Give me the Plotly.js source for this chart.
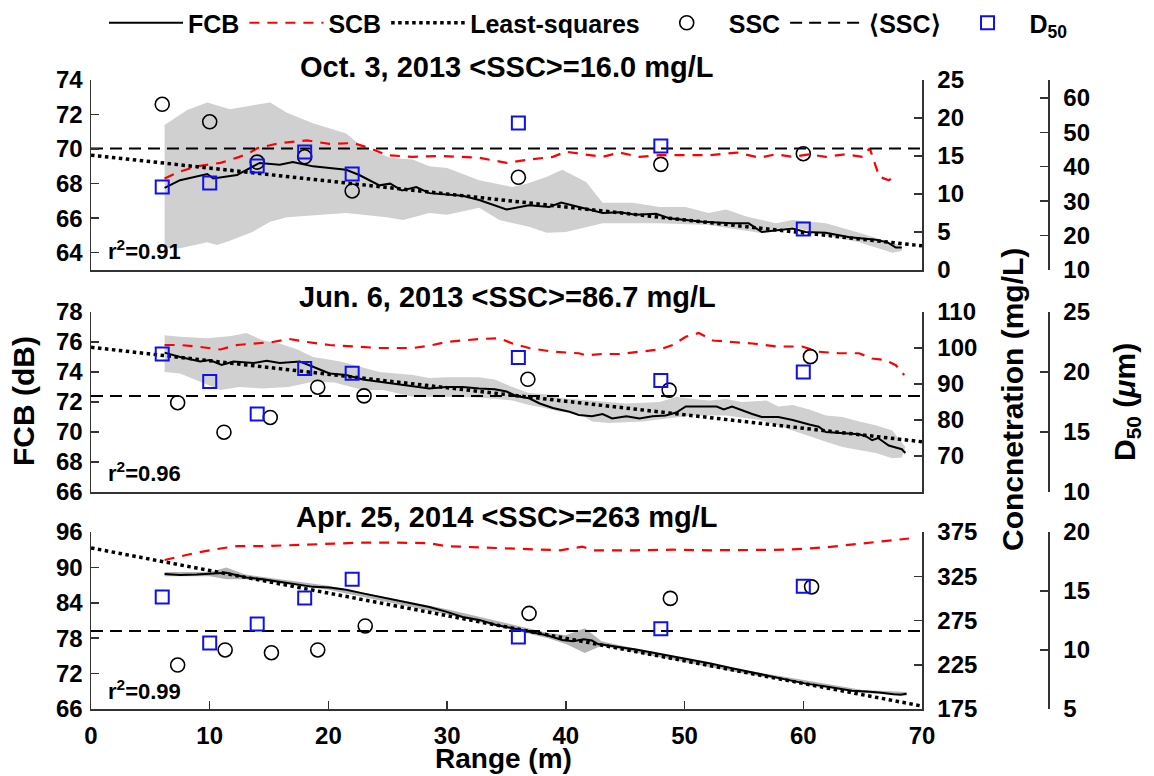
<!DOCTYPE html>
<html>
<head>
<meta charset="utf-8">
<script src="https://cdn.plot.ly/plotly-3.0.1.min.js"></script>
<style>html,body{margin:0;padding:0;background:#fff;}#chart{width:1154px;height:776px;}</style>
</head>
<body>
<div id="chart"></div>
<script>
// ---------------- DATA ----------------
const panelTitles = ["Oct. 3, 2013 <SSC>=16.0 mg/L", "Jun. 6, 2013 <SSC>=86.7 mg/L", "Apr. 25, 2014 <SSC>=263 mg/L"];
const r2Labels = ["r<sup>2</sup>=0.91", "r<sup>2</sup>=0.96", "r<sup>2</sup>=0.99"];
const meanSSC = [16.0, 86.7, 263];

// Panel 1 (Oct. 3, 2013)
const fcb1X = [6.2,7.5,9.8,10.3,12.3,13.4,14.2,15.9,17.0,18.7,20.1,21.5,22.6,24.3,25.2,26.2,27.4,28.5,31.3,32.7,35.0,36.9,38.6,39.6,41.1,43.1,44.5,45.9,47.6,48.7,51.5,54.0,55.4,56.5,59.1,60.2,61.9,63.9,66.1,67.1,67.8,68.3];
const fcb1Y = [67.76,68.2,68.56,68.3,68.5,68.9,69.2,69.1,69.25,69.0,68.9,68.8,68.5,67.9,68.0,67.6,67.8,67.45,67.3,67.05,66.5,66.75,66.65,66.9,66.65,66.3,66.35,66.2,66.25,66.0,65.8,65.7,65.7,65.2,65.4,65.2,65.15,64.9,64.75,64.6,64.3,64.3];
const up1X = [6.2,8.1,9.8,11.7,13.3,15.1,16.5,18.7,21.5,22.9,25.2,27.1,28.5,30.0,32.7,35.5,36.7,38.4,39.7,41.7,43.1,45.6,47.9,50.1,52.0,53.5,55.2,57.7,59.1,61.9,64.7,67.5,68.3];
const up1Y = [71.4,72.26,72.7,72.3,72.5,72.7,72.1,71.5,70.9,70.1,69.5,69.4,69.0,68.9,68.2,67.8,68.0,68.4,68.8,68.1,66.9,66.9,66.65,66.65,66.3,66.5,66.1,65.7,65.9,65.7,65.15,64.55,64.4];
const lo1X = [6.2,7.5,9.8,10.6,11.7,13.6,15.1,16.5,18.7,21.5,24.9,26.3,28.5,30.0,32.7,34.4,36.9,38.4,40.0,41.1,43.1,47.9,52.0,56.3,59.1,61.9,64.7,67.5,68.3];
const lo1Y = [64.3,64.26,64.6,64.45,64.7,65.2,65.8,66.05,66.15,66.3,66.05,65.9,66.3,66.2,66.6,65.9,65.5,65.15,65.2,65.4,65.7,65.7,65.6,65.15,65.5,65.0,64.6,64.0,64.1];
const scb1X = [6.2,7.5,8.9,10.9,12.5,13.4,14.0,15.9,18.2,20.1,22.1,23.5,24.9,27.1,29.5,32.7,35.0,36.4,38.9,40.0,41.5,43.1,44.5,46.2,47.9,50.0,52.1,54.4,56.3,57.7,59.1,60.5,61.9,63.5,65.0,65.6,66.4,67.2,67.9];
const scb1Y = [68.3,68.7,69.0,69.2,69.55,69.8,70.05,70.35,70.5,70.3,70.35,70.05,69.65,69.55,69.6,69.5,69.2,69.35,69.55,69.85,69.7,69.55,69.8,69.55,69.65,69.65,69.65,69.8,69.5,69.7,69.55,69.7,69.55,69.7,69.55,70.05,68.4,68.2,68.5];
const ls1X = [0,70];
const ls1Y = [69.65,64.4];
const ssc1X = [6,10,14,18,22,36,48,60];
const ssc1 = [21.8,19.5,14.2,14.9,10.4,12.2,13.9,15.3];
const d501X = [6,10,14,18,22,36,48,60];
const d501 = [34.1,35.3,40.2,44.3,37.9,52.7,46.0,21.9];

// Panel 2 (Jun. 6, 2013)
const fcb2X = [6.2,7.5,9.2,10.0,11.0,12.0,13.7,14.8,15.9,17.6,18.7,20.1,21.5,22.9,24.3,25.7,27.1,28.5,29.9,31.3,32.7,34.0,35.0,35.8,36.9,37.8,38.9,40.3,41.1,42.2,43.1,43.9,45.1,46.2,47.3,48.4,49.3,50.1,51.5,52.7,53.3,54.0,55.7,56.5,57.9,59.1,60.5,61.3,61.9,63.6,64.7,65.3,65.8,66.3,67.2,68.3,68.6];
const fcb2Y = [75.29,75.0,74.7,74.8,74.47,74.7,74.6,74.75,74.6,74.7,74.35,73.9,73.8,73.5,73.35,73.2,73.0,72.9,73.0,73.0,72.9,72.85,72.7,72.4,72.25,71.9,71.6,71.35,71.13,71.05,71.2,70.9,71.05,70.9,71.05,71.1,71.3,71.7,71.7,71.7,71.5,71.7,71.2,71.0,71.0,70.8,70.5,70.35,70.0,69.9,69.85,69.7,69.45,69.6,69.1,68.85,68.6];
const up2X = [6.2,7.5,9.8,11.8,13.1,14.5,15.9,17.4,18.7,21.0,22.9,24.3,27.1,28.5,29.9,32.7,34.0,35.5,36.9,38.5,39.5,42.0,45.1,47.9,49.3,50.7,52.1,53.5,54.8,56.9,57.9,59.1,60.5,61.9,63.3,64.7,66.1,67.5,68.6];
const up2Y = [76.45,76.35,76.25,76.4,76.6,76.1,75.9,75.5,75.0,74.7,74.3,74.0,73.8,73.6,73.65,73.65,73.5,73.0,72.6,72.5,72.27,72.1,71.9,72.0,72.35,72.2,72.1,72.2,72.0,72.1,71.7,71.8,71.5,71.1,71.0,70.7,70.45,70.1,69.0];
const lo2X = [6.2,7.5,8.9,10.9,12.5,14.5,16.6,18.7,20.5,22.9,24.6,27.1,29.9,32.7,35.5,36.9,38.2,39.5,41.1,42.2,43.6,46.5,48.5,50.7,53.5,56.3,57.7,59.1,60.5,61.9,63.3,64.7,66.1,67.5,68.3];
const lo2Y = [74.0,73.9,73.45,72.8,73.0,72.9,73.0,73.35,73.3,72.8,72.8,72.35,72.35,72.3,72.1,71.8,71.6,71.35,71.25,70.7,70.6,70.7,70.9,71.1,71.1,70.8,70.5,70.1,69.7,69.35,69.0,68.8,68.6,68.25,68.3];
const scb2X = [6.2,7.5,8.9,10.9,12.3,13.6,15.3,16.7,18.2,20.1,22.4,24.3,27.1,28.5,29.9,32.7,34.4,35.5,36.9,38.9,41.1,41.7,43.0,44.5,46.2,47.9,49.0,50.1,51.2,52.4,54.0,55.7,57.7,59.9,61.3,63.0,64.7,65.8,66.9,67.8,68.5];
const scb2Y = [75.8,75.8,75.7,75.5,75.8,75.9,76.0,76.2,76.0,75.8,75.7,75.6,75.6,75.75,76.0,76.2,76.25,75.9,75.6,75.35,75.25,75.1,75.2,75.2,75.35,75.5,75.8,76.35,76.6,76.1,76.0,75.9,75.7,75.7,75.35,75.25,75.25,74.9,74.8,74.45,73.8];
const ls2X = [0,70];
const ls2Y = [75.65,69.35];
const ssc2X = [7.3,11.2,15.1,19.1,23.0,36.8,48.7,60.6];
const ssc2 = [84.8,76.6,80.7,89.1,86.7,91.3,88.3,97.6];
const d502X = [6,10,14,18,22,36,48,60];
const d502 = [21.5,19.2,16.5,20.3,19.9,21.2,19.3,20.0];

// Panel 3 (Apr. 25, 2014)
const fcb3X = [6.2,7.5,8.9,10.3,11.4,12.2,13.1,14.5,15.9,17.3,18.7,20.1,21.5,22.9,24.3,25.7,27.1,28.5,29.9,31.3,32.7,34.2,35.5,36.9,38.4,39.7,40.6,41.5,42.2,42.7,44.3,45.9,47.5,49.1,50.6,52.2,53.8,55.4,57.0,58.6,60.2,61.9,63.0,64.1,65.3,66.4,67.6,68.2,68.7];
const fcb3Y = [88.9,88.7,88.8,88.9,89.1,88.7,88.3,88.0,87.6,87.2,86.7,86.6,86.2,85.6,85.0,84.5,83.9,83.3,82.5,81.6,81.1,80.2,79.7,79.1,78.5,77.7,77.5,77.8,77.6,77.0,76.6,76.1,75.5,74.9,74.3,73.7,73.0,72.3,71.6,70.9,70.3,69.8,69.4,69.1,68.95,68.8,68.5,68.4,68.6];
const up3X = [6.2,10.0,11.4,13.0,20,30,38.5,40.0,41.6,43.0,45,55,65,68.7];
const up3Y = [89.2,89.2,90.0,88.8,86.9,82.9,78.9,78.5,79.7,77.5,76.6,72.6,69.2,68.9];
const lo3X = [6.2,10.0,11.4,13.0,20,30,38.5,40.0,41.6,43.0,45,55,65,68.7];
const lo3Y = [88.5,88.5,88.0,88.0,86.2,82.0,78.0,77.0,75.5,76.7,75.9,72.0,68.7,68.3];
const scb3X = [6.2,7.5,8.9,10.9,12.3,14.5,17.3,20.1,22.9,25.7,28.5,29.9,32.7,35.5,38.4,39.5,41.4,42.3,45.9,49.0,52.2,55.4,58.6,61.9,65.1,68.9];
const scb3Y = [91.25,91.8,92.5,93.2,93.6,93.6,93.8,94.1,94.2,94.2,94.1,93.6,93.4,93.2,92.9,92.9,93.5,92.9,92.9,93.0,92.9,92.9,93.0,93.4,94.1,94.9];
const ls3X = [0,70];
const ls3Y = [93.3,66.5];
const ssc3X = [7.3,11.3,15.2,19.1,23.1,36.9,48.8,60.7];
const ssc3 = [224.7,241.7,238.6,241.7,268.8,283.0,300.0,313.0];
const d503X = [6,10,14,18,22,36,48,60];
const d503 = [14.5,10.6,12.2,14.4,16.0,11.1,11.8,15.4];

// Tick values
const fcbTicks = [[64,66,68,70,72,74],[66,68,70,72,74,76,78],[66,72,78,84,90,96]];
const concTicks = [[0,5,10,15,20,25],[70,80,90,100,110],[175,225,275,325,375]];
const d50Ticks = [[10,20,30,40,50,60],[10,15,20,25],[5,10,15,20]];
const xTicks = [0,10,20,30,40,50,60,70];

// ---------------- LAYOUT HELPERS ----------------
const W = 1154, H = 776;
const M = {l: 91, r: 40, t: 60, b: 40};
const PW = W - M.l - M.r, PH = H - M.t - M.b;
const px2x = p => (p - M.l) / PW;
const py2y = p => 1 - (p - M.t) / PH;
const rowsPx = [[80, 270], [312, 492], [532, 709]];
const xDom = [0, px2x(922)];
const d50Pos = px2x(1048);
const fcbRanges = [[63, 74], [66, 78], [66, 96]];
const concRanges = [[0, 25], [60, 110], [175, 375]];
const d50Ranges = [[10, 65.2], [10, 25], [5, 20]];

const FONT = '"Liberation Sans", Arial, Helvetica, sans-serif';
const tickFont = {family: FONT, size: 24, color: '#000', weight: 'bold'};
const AXC = '#333';

const panels = [
  {fx: fcb1X, fy: fcb1Y, ux: up1X, uy: up1Y, lx: lo1X, ly: lo1Y, sx: scb1X, sy: scb1Y, lsx: ls1X, lsy: ls1Y, cx: ssc1X, cy: ssc1, dx: d501X, dy: d501, band: '#d0d0d0'},
  {fx: fcb2X, fy: fcb2Y, ux: up2X, uy: up2Y, lx: lo2X, ly: lo2Y, sx: scb2X, sy: scb2Y, lsx: ls2X, lsy: ls2Y, cx: ssc2X, cy: ssc2, dx: d502X, dy: d502, band: '#d0d0d0'},
  {fx: fcb3X, fy: fcb3Y, ux: up3X, uy: up3Y, lx: lo3X, ly: lo3Y, sx: scb3X, sy: scb3Y, lsx: ls3X, lsy: ls3Y, cx: ssc3X, cy: ssc3, dx: d503X, dy: d503, band: '#b4b4b4'}
];

const data = [];
const layout = {
  width: W, height: H,
  margin: M,
  paper_bgcolor: '#fff', plot_bgcolor: 'rgba(0,0,0,0)',
  font: {family: FONT, size: 24, color: '#000', weight: 'bold'},
  showlegend: true,
  legend: {orientation: 'h', xref: 'container', yref: 'container', x: 104 / W, xanchor: 'left', y: 1, yanchor: 'top',
           font: {family: FONT, size: 25, color: '#000', weight: 'bold'}, bgcolor: 'rgba(0,0,0,0)', itemwidth: 74, traceorder: 'normal'},
  annotations: []
};

panels.forEach((p, i) => {
  const xa = i === 0 ? 'x' : 'x' + (i + 1);
  const yF = 'y' + (i * 3 === 0 ? '' : (i * 3 + 1));
  const yC = 'y' + (i * 3 + 2);
  const yD = 'y' + (i * 3 + 3);
  const yFname = 'yaxis' + (i * 3 === 0 ? '' : (i * 3 + 1));
  const dom = [py2y(rowsPx[i][1]), py2y(rowsPx[i][0])];
  const leg = i === 0;

  // band
  data.push({x: p.ux.concat(p.lx.slice().reverse()), y: p.uy.concat(p.ly.slice().reverse()),
    xaxis: xa, yaxis: yF, type: 'scatter', mode: 'lines', fill: 'toself', fillcolor: p.band,
    line: {width: 0, color: p.band}, showlegend: false, hoverinfo: 'skip'});
  // mean SSC
  data.push({x: [0, 70], y: [meanSSC[i], meanSSC[i]], xaxis: xa, yaxis: yC, type: 'scatter', mode: 'lines',
    line: {color: '#000', width: 2, dash: '12px,7px'}, name: '⟨SSC⟩', showlegend: leg, legendrank: 5});
  // SCB
  data.push({x: p.sx, y: p.sy, xaxis: xa, yaxis: yF, type: 'scatter', mode: 'lines',
    line: {color: '#ff0000', width: 2.2, dash: '10px,8px'}, name: 'SCB', showlegend: leg, legendrank: 2});
  // FCB
  data.push({x: p.fx, y: p.fy, xaxis: xa, yaxis: yF, type: 'scatter', mode: 'lines',
    line: {color: '#000', width: 2}, name: 'FCB', showlegend: leg, legendrank: 1});
  // least squares
  data.push({x: p.lsx, y: p.lsy, xaxis: xa, yaxis: yF, type: 'scatter', mode: 'lines',
    line: {color: '#000', width: 3.5, dash: 'dot'}, name: 'Least-squares', showlegend: leg, legendrank: 3});
  // SSC circles
  data.push({x: p.cx, y: p.cy, xaxis: xa, yaxis: yC, type: 'scatter', mode: 'markers',
    marker: {symbol: 'circle-open', size: 14, color: '#000', line: {width: 1.6, color: '#000'}}, name: 'SSC', showlegend: leg, legendrank: 4});
  // D50 squares
  data.push({x: p.dx, y: p.dy, xaxis: xa, yaxis: yD, type: 'scatter', mode: 'markers',
    marker: {symbol: 'square-open', size: 13, color: '#1010ee', line: {width: 2, color: '#1010ee'}}, name: 'D<sub>50</sub>', showlegend: leg, legendrank: 6});

  const xname = i === 0 ? 'xaxis' : 'xaxis' + (i + 1);
  layout[xname] = {domain: xDom, range: [0, 70], anchor: yF, showline: true, linecolor: AXC, linewidth: 1.5,
    showgrid: false, zeroline: false, fixedrange: true,
    ticks: i === 2 ? 'inside' : '', ticklen: 8, tickwidth: 1.5, tickcolor: AXC,
    showticklabels: i === 2, tickvals: xTicks, tickfont: tickFont, ticklabelstandoff: 5};
  layout[yFname] = {domain: dom, range: fcbRanges[i], anchor: xa, showline: true, linecolor: AXC, linewidth: 1.5,
    showgrid: false, zeroline: false, ticks: 'inside', ticklen: 8, tickwidth: 1.5, tickcolor: AXC,
    tickvals: fcbTicks[i], tickfont: tickFont, ticklabelstandoff: 2};
  layout['yaxis' + (i * 3 + 2)] = {overlaying: yF, side: 'right', anchor: xa, range: concRanges[i], showline: true,
    linecolor: AXC, linewidth: 1.5, showgrid: false, zeroline: false, ticks: 'inside', ticklen: 8, tickwidth: 1.5, tickcolor: AXC,
    tickvals: concTicks[i], tickfont: tickFont, ticklabelstandoff: 9};
  layout['yaxis' + (i * 3 + 3)] = {overlaying: yF, side: 'right', anchor: 'free', position: d50Pos, range: d50Ranges[i], showline: true,
    linecolor: AXC, linewidth: 1.5, showgrid: false, zeroline: false, ticks: 'inside', ticklen: 8, tickwidth: 1.5, tickcolor: AXC,
    tickvals: d50Ticks[i], tickfont: tickFont, ticklabelstandoff: 9};

  const titleCy = [67, 297, 517][i];
  layout.annotations.push({text: panelTitles[i], xref: 'paper', yref: 'paper', x: px2x(507), y: py2y(titleCy),
    xanchor: 'center', yanchor: 'middle', showarrow: false, font: {family: FONT, size: 29, color: '#000', weight: 'bold'}});
  const r2Cy = [250, 472, 690][i];
  layout.annotations.push({text: r2Labels[i], xref: 'paper', yref: 'paper', x: px2x(106), y: py2y(r2Cy),
    xanchor: 'left', yanchor: 'middle', showarrow: false, font: {family: FONT, size: 22, color: '#000', weight: 'bold'}});
});

// axis titles as annotations
const axTitleFont = {family: FONT, size: 30, color: '#000', weight: 'bold'};
layout.annotations.push({text: 'FCB (dB)', textangle: -90, xref: 'paper', yref: 'paper', x: px2x(23), y: py2y(401), xanchor: 'center', yanchor: 'middle', showarrow: false, font: axTitleFont});
layout.annotations.push({text: 'Concnetration (mg/L)', textangle: -90, xref: 'paper', yref: 'paper', x: px2x(1012), y: py2y(400), xanchor: 'center', yanchor: 'middle', showarrow: false, font: axTitleFont});
layout.annotations.push({text: 'D<sub>50</sub> (<i>μ</i>m)', textangle: -90, xref: 'paper', yref: 'paper', x: px2x(1126), y: py2y(402), xanchor: 'center', yanchor: 'middle', showarrow: false, font: axTitleFont});
layout.annotations.push({text: 'Range (m)', xref: 'paper', yref: 'paper', x: px2x(503), y: py2y(758), xanchor: 'center', yanchor: 'middle', showarrow: false, font: {family: FONT, size: 28, color: '#000', weight: 'bold'}});

Plotly.newPlot('chart', data, layout, {staticPlot: true, displayModeBar: false});
</script>
</body>
</html>
